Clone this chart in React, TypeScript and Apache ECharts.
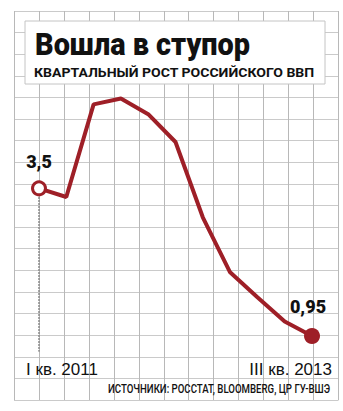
import React, { useEffect, useRef } from "react";
import * as echarts from "echarts";

const quarters = ["I кв. 2011", "II кв. 2011", "III кв. 2011", "IV кв. 2011", "I кв. 2012", "II кв. 2012", "III кв. 2012", "IV кв. 2012", "I кв. 2013", "II кв. 2013", "III кв. 2013"];
const growth = [3.5, 3.35, 4.95, 5.05, 4.78, 4.3, 3.0, 2.05, 1.62, 1.2, 0.95];
const titleText = "Вошла в ступор";
const subtitleText = "КВАРТАЛЬНЫЙ РОСТ РОССИЙСКОГО ВВП";
const sourceText = "ИСТОЧНИКИ: РОССТАТ, BLOOMBERG, ЦР ГУ-ВШЭ";

const RED = "#9e1f27";

function measure(text: string, font: string): number {
  const c = document.createElement("canvas");
  const ctx = c.getContext("2d");
  if (!ctx) return text.length * 10;
  ctx.font = font;
  return ctx.measureText(text).width;
}

export default function App() {
  const ref = useRef<HTMLDivElement>(null);
  useEffect(() => {
    if (!ref.current) return;
    const chart = echarts.init(ref.current, undefined, { renderer: "svg" });
    const fmt = (v: number) => String(v).replace(".", ",");
    const last = growth.length - 1;
    const data = growth.map((v, i) => {
      if (i === 0) {
        return {
          value: v,
          symbol: "circle",
          symbolSize: 13,
          itemStyle: { color: "#fff", borderColor: RED, borderWidth: 3 },
          label: { show: true, position: "top", distance: 10, formatter: () => fmt(v), fontSize: 18, fontWeight: 900, color: "#111", fontFamily: "Roboto" },
        };
      }
      if (i === last) {
        return {
          value: v,
          symbol: "circle",
          symbolSize: 16,
          itemStyle: { color: RED, borderWidth: 0 },
          label: { show: true, position: "top", distance: 12, offset: [-4, 0], formatter: () => fmt(v), fontSize: 18, fontWeight: 900, color: "#111", fontFamily: "Roboto" },
        };
      }
      return { value: v, symbol: "none" };
    });

    const titleFont = "900 32px Roboto";
    const subFont = "bold 13px Roboto";
    const srcFont = "500 12px Roboto";
    const titleScale = 215 / measure(titleText, titleFont);
    const subScale = 281 / measure(subtitleText, subFont);
    const srcScale = 222 / measure(sourceText, srcFont);

    chart.setOption({
      animation: false,
      backgroundColor: "#fff",
      grid: [
        { left: 39, top: 72.5, width: 273, height: 318.5 },
        { left: 14, top: 11, width: 324.5, height: 389 },
      ],
      xAxis: [
        { type: "category", gridIndex: 0, data: quarters, boundaryGap: false, show: false },
        {
          type: "value", gridIndex: 1, min: 0, max: 13, interval: 1,
          axisLine: { show: false }, axisTick: { show: false }, axisLabel: { show: false },
          splitLine: { show: true, lineStyle: { color: "#b8b8b8", width: 1 } },
        },
      ],
      yAxis: [
        { type: "value", gridIndex: 0, min: 0, max: 5.5, show: false, splitLine: { show: false } },
        {
          type: "value", gridIndex: 1, min: 0, max: 18, interval: 1,
          axisLine: { show: false }, axisTick: { show: false }, axisLabel: { show: false },
          splitLine: { show: true, lineStyle: { color: "#cacaca", width: 1 } },
        },
      ],
      series: [
        {
          type: "line",
          xAxisIndex: 0,
          yAxisIndex: 0,
          data,
          z: 5,
          lineStyle: { color: RED, width: 4 },
          itemStyle: { color: RED },
          markLine: {
            silent: true,
            symbol: "none",
            z: 3,
            label: { show: false },
            lineStyle: { color: "#8a8a8a", width: 2, type: [1.5, 1.5] },
            data: [[{ xAxis: 0, yAxis: growth[0] }, { xAxis: 0, yAxis: 0.68 }]],
          },
        },
      ],
      graphic: [
        {
          type: "rect", z: 10,
          shape: { x: 25, y: 21, width: 300, height: 63 },
          style: { fill: "#fff", stroke: "#c4c4c4", lineWidth: 1 },
        },
        {
          type: "text", z: 11, x: 35, y: 43.7, scaleX: titleScale,
          style: { text: titleText, font: titleFont, fill: "#111", verticalAlign: "middle", align: "left" },
        },
        {
          type: "text", z: 11, x: 34, y: 72.2, scaleX: subScale,
          style: { text: subtitleText, font: subFont, fill: "#111", verticalAlign: "middle", align: "left" },
        },
        {
          type: "text", z: 11, x: 26, y: 369,
          style: { text: quarters[0], font: "17px 'Liberation Sans'", fill: "#111", verticalAlign: "middle", align: "left" },
        },
        {
          type: "text", z: 11, x: 332, y: 369,
          style: { text: quarters[last], font: "17px 'Liberation Sans'", fill: "#111", verticalAlign: "middle", align: "right" },
        },
        {
          type: "text", z: 11, x: 330, y: 389, scaleX: srcScale,
          style: { text: sourceText, font: srcFont, fill: "#111", verticalAlign: "middle", align: "right" },
        },
      ],
    });
    return () => chart.dispose();
  }, []);
  return <div ref={ref} style={{ position: "fixed", left: 0, top: 0, width: 343, height: 411 }} />;
}
